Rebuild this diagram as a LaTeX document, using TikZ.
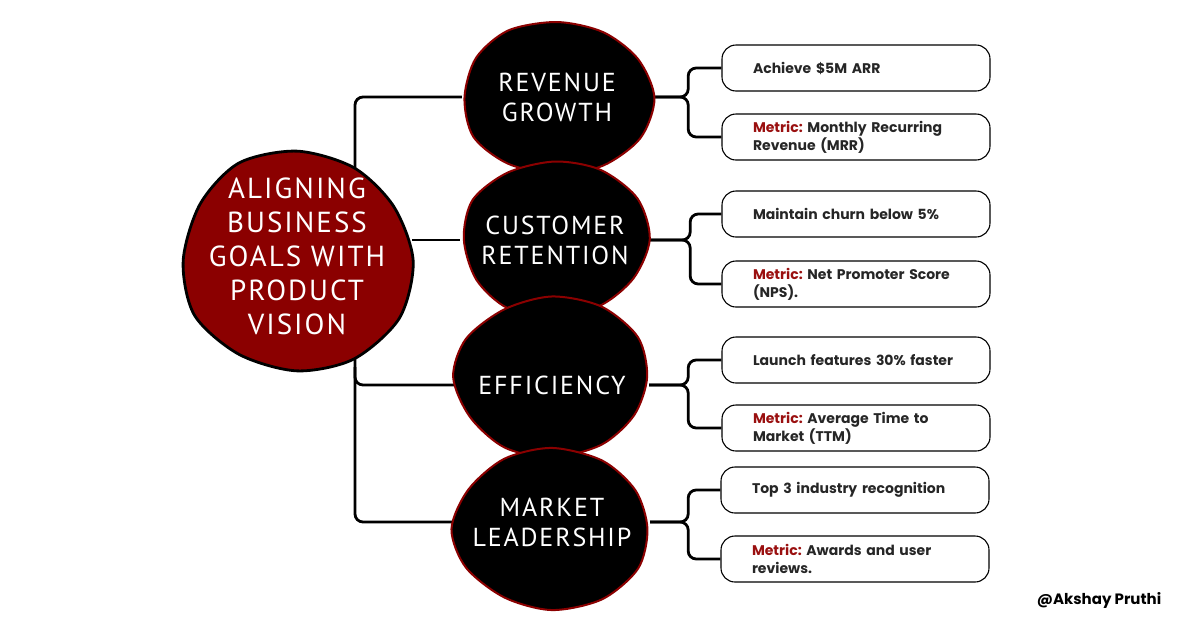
\documentclass[tikz,border=0pt]{standalone}
\usepackage{fontspec}
\setmainfont{Poppins}
\newfontfamily\blobfont{PT Sans}[LetterSpace=7]
\usetikzlibrary{shapes.geometric,backgrounds,positioning}

\definecolor{goalred}{HTML}{8B0000}
\definecolor{metricred}{HTML}{9A1010}
\definecolor{cardtext}{HTML}{262626}

\newcommand{\blob}[6]{%
  \path[#6] plot[smooth cycle, samples at={0,30,...,330}, variable=\t]
    ({#1+#3*(1+0.03*sin(3*\t+#5))*cos(\t)}, {#2+#4*(1+0.03*sin(2*\t+#5))*sin(\t)});}

\tikzset{
  conn/.style={line width=2.8pt, black},
  hubblob/.style={fill=goalred, draw=black, line width=2.8pt},
  goalblob/.style={fill=black, draw=goalred, line width=2pt},
  hub/.style={ellipse, inner sep=0pt, minimum width=229pt, minimum height=222pt},
  goal/.style={ellipse, inner sep=0pt, minimum width=190pt, minimum height=156pt},
  hubtext/.style={text=white, align=center, font=\blobfont\fontsize{29}{34}\selectfont},
  goaltext/.style={text=white, align=center, font=\blobfont\fontsize{26}{30}\selectfont},
  card/.style={draw, line width=1.1pt, rounded corners=14pt, inner xsep=31pt, minimum height=46pt,
    text width=206pt, align=left, text=cardtext, font=\bfseries\fontsize{14}{18}\selectfont\frenchspacing},
}

\begin{document}
\begin{tikzpicture}[x=1pt, y=-1pt]
                \useasboundingbox (0,0) rectangle (1200,630);

                \blob{297}{261}{115}{111}{20}{hubblob}

                \node[hub, label={[hubtext]center:ALIGNING\\BUSINESS\\GOALS WITH\\PRODUCT\\VISION}] (main) at (297,256) {};

                \blob{557}{98}{95}{78}{60}{goalblob}

                \node[goal, label={[goaltext]center:REVENUE\\GROWTH}] (rg) at (557,97) {};

                \blob{555}{239}{93}{79}{140}{goalblob}

                \node[goal, label={[goaltext]center:CUSTOMER\\RETENTION}] (cr) at (555,240) {};

                \blob{552}{377}{97}{79}{220}{goalblob}

                \node[goal, minimum width=194pt, label={[goaltext]center:EFFICIENCY}] (ef) at (552,385) {};

                \blob{552}{529}{98}{79}{300}{goalblob}

                \node[goal, minimum width=196pt, label={[goaltext]center:MARKET\\LEADERSHIP}] (ml) at (552,522) {};

                \node[card] (rgA) at (856,68) {Achieve \$5M ARR};

                \node[card] (rgB) at (856,137) {\textcolor{metricred}{Metric:} Monthly Recurring\\Revenue (MRR)};

                \node[card] (crA) at (856,214) {Maintain churn below 5\%};

                \node[card] (crB) at (856,284) {\textcolor{metricred}{Metric:} Net Promoter Score\\(NPS).};

                \node[card] (efA) at (856,360) {Launch features 30\% faster};

                \node[card] (efB) at (856,428) {\textcolor{metricred}{Metric:} Average Time to\\Market (TTM)};

                \node[card] (mlA) at (855,490) {Top 3 industry recognition};

                \node[card] (mlB) at (855,559) {\textcolor{metricred}{Metric:} Awards and user\\reviews.};

                \node[font=\bfseries\fontsize{15}{18}\selectfont] (sign) at (1099,600) {@Akshay Pruthi};

                \coordinate (trunk) at (355,0);

                \begin{scope}[on background layer]
                \draw[conn, rounded corners=8pt] (rg.west) -| (trunk |- ml.west) -- (ml.west);

                \draw[conn, rounded corners=8pt] (trunk |- main.south) |- (ef.west);

                \draw[conn] (cr.west) -- (cr.west -| main.east);

                \draw[conn, rounded corners=8pt] (rgA.west) -| ([xshift=36pt]rg.east) -- (rg.east);

                \draw[conn, rounded corners=8pt] (rgB.west) -| ([xshift=36pt]rg.east) -- (rg.east);

                \draw[conn, rounded corners=8pt] (crA.west) -| ([xshift=40pt]cr.east) -- (cr.east);

                \draw[conn, rounded corners=8pt] (crB.west) -| ([xshift=40pt]cr.east) -- (cr.east);

                \draw[conn, rounded corners=8pt] (efA.west) -| ([xshift=39pt]ef.east) -- (ef.east);

                \draw[conn, rounded corners=8pt] (efB.west) -| ([xshift=39pt]ef.east) -- (ef.east);

                \draw[conn, rounded corners=8pt] (mlA.west) -| ([xshift=38pt]ml.east) -- (ml.east);

                \draw[conn, rounded corners=8pt] (mlB.west) -| ([xshift=38pt]ml.east) -- (ml.east);
                \end{scope}
            \end{tikzpicture}
\end{document}
